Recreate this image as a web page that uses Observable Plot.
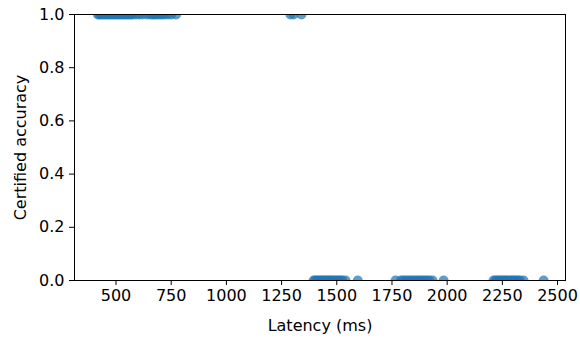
<!DOCTYPE html>
<html>
<head>
<meta charset="utf-8">
<script src="https://cdn.jsdelivr.net/npm/d3@7"></script>
<script src="https://cdn.jsdelivr.net/npm/@observablehq/plot@0.6"></script>
<style>
  html, body { margin: 0; padding: 0; background: #fff; }
  svg { display: block; }
</style>
</head>
<body>
<div id="chart"></div>
<script>
// Latency (ms) of samples that were certified (accuracy 1.0)
const certifiedLatency = [418, 425, 432, 440, 447, 455, 462, 470, 478, 485, 493, 500, 508, 515, 522, 530, 538, 545, 553, 560, 568, 575, 590, 605, 620, 640, 655, 665, 672, 680, 690, 700, 710, 720, 735, 750, 772, 1290, 1305, 1340];
// Latency (ms) of samples that were not certified (accuracy 0.0)
const failedLatency = [1395, 1402, 1410, 1418, 1425, 1433, 1440, 1448, 1456, 1463, 1470, 1478, 1486, 1494, 1502, 1510, 1518, 1526, 1540, 1595,
  1766, 1790, 1800, 1810, 1820, 1830, 1840, 1850, 1860, 1870, 1880, 1890, 1900, 1910, 1920, 1934, 1984,
  2210, 2218, 2226, 2234, 2242, 2250, 2258, 2266, 2274, 2282, 2290, 2298, 2306, 2314, 2322, 2330, 2346, 2437];
const certifiedValue = 1.0;
const failedValue = 0.0;
const xTicks = [500, 750, 1000, 1250, 1500, 1750, 2000, 2250, 2500];
const yTicks = [0, 0.2, 0.4, 0.6, 0.8, 1.0];

const data = [
  ...certifiedLatency.map(x => ({latency: x, acc: certifiedValue})),
  ...failedLatency.map(x => ({latency: x, acc: failedValue}))
];

const chart = Plot.plot({
  width: 580,
  height: 338,
  marginLeft: 74,
  marginRight: 15,
  marginTop: 14,
  marginBottom: 58,
  style: {fontFamily: "DejaVu Sans", fontSize: "16px", color: "#000", background: "#fff"},
  x: {domain: [312, 2536]},
  y: {domain: [0, 1]},
  marks: [
    Plot.dot(data, {x: "latency", y: "acc", r: 5, fill: "#1f77b4", fillOpacity: 0.72, stroke: "none", clip: true}),
    Plot.frame({stroke: "#000", strokeWidth: 1}),
    Plot.axisX({ticks: xTicks, tickSize: 5, tickPadding: 4, tickFormat: d3.format("d"), label: "Latency (ms)", labelAnchor: "center", labelArrow: "none", labelOffset: 50, fontSize: 16}),
    Plot.axisY({ticks: yTicks, tickSize: 5, tickPadding: 5, tickFormat: d3.format(".1f"), label: "Certified accuracy", labelAnchor: "center", labelArrow: "none", labelOffset: 60, fontSize: 16})
  ]
});
document.getElementById("chart").appendChild(chart);
</script>
</body>
</html>
